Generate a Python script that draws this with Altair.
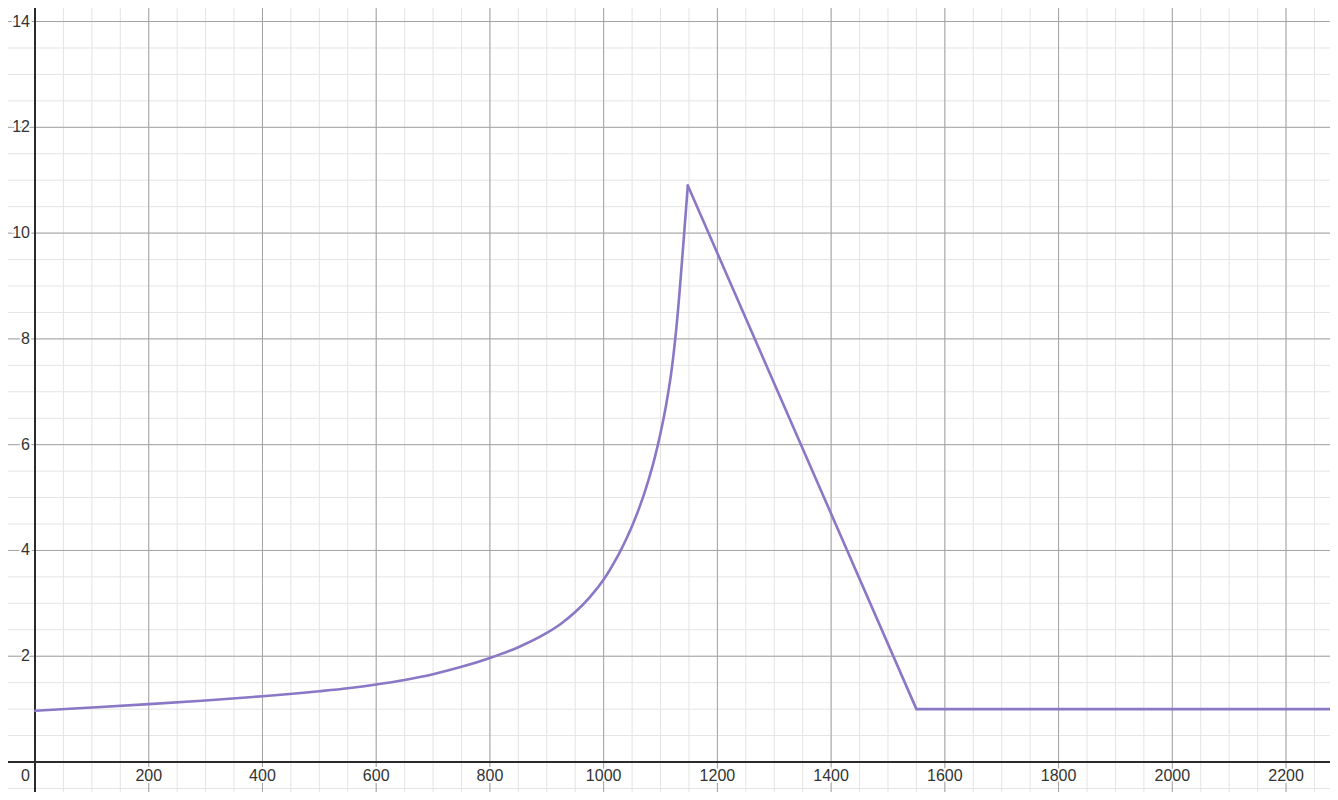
import altair as alt
import pandas as pd

# Rising curve
curve_x = [0, 100, 200, 300, 400, 500, 550, 600, 650, 700, 750, 800, 850, 900, 925, 950, 975,
           1000, 1010, 1020, 1030, 1040, 1050, 1060, 1070, 1080, 1090, 1100, 1110, 1120,
           1130, 1140, 1148]
curve_y = [0.97, 1.03, 1.094, 1.164, 1.243, 1.339, 1.395, 1.465, 1.551, 1.66, 1.799, 1.968,
           2.171, 2.44, 2.615, 2.835, 3.11, 3.45, 3.617, 3.801, 4.003, 4.222, 4.463, 4.731,
           5.031, 5.371, 5.761, 6.221, 6.761, 7.451, 8.451, 9.776, 10.9]

# Straight drop and flat tail
seg_x = [1148, 1550, 2300]
seg_y = [10.9, 1.0, 1.0]

# Grid and tick labels
minor_x = [v for v in range(-50, 2301, 50)]
minor_y = [v / 2 for v in range(-1, 29)]
major_x = [0, 200, 400, 600, 800, 1000, 1200, 1400, 1600, 1800, 2000, 2200]
major_y = [0, 2, 4, 6, 8, 10, 12, 14]
x_labels = [200, 400, 600, 800, 1000, 1200, 1400, 1600, 1800, 2000, 2200]
y_labels = [2, 4, 6, 8, 10, 12, 14]

xs = alt.Scale(domain=[-47.48, 2277.3], nice=False, zero=False)
ys = alt.Scale(domain=[-0.567, 14.256], nice=False, zero=False)

FONT = "Liberation Sans"

df_curve = pd.DataFrame({"x": curve_x, "y": curve_y})
df_seg = pd.DataFrame({"x": seg_x, "y": seg_y})
df_mx = pd.DataFrame({"v": minor_x})
df_my = pd.DataFrame({"v": minor_y})
df_Mx = pd.DataFrame({"v": major_x})
df_My = pd.DataFrame({"v": major_y})
df_xl = pd.DataFrame({"x": x_labels, "y": [0] * len(x_labels), "t": [str(v) for v in x_labels]})
df_yl = pd.DataFrame({"x": [0] * len(y_labels), "y": y_labels, "t": [str(v) for v in y_labels]})
df_zero = pd.DataFrame({"x": [0], "y": [0], "t": ["0"]})
df_ax = pd.DataFrame({"v": [0]})

minor_gx = alt.Chart(df_mx).mark_rule(color="#e4e4e4", strokeWidth=1).encode(
    x=alt.X("v:Q", scale=xs, axis=None))
minor_gy = alt.Chart(df_my).mark_rule(color="#e4e4e4", strokeWidth=1).encode(
    y=alt.Y("v:Q", scale=ys, axis=None))
major_gx = alt.Chart(df_Mx).mark_rule(color="#a3a3a3", strokeWidth=1).encode(
    x=alt.X("v:Q", scale=xs, axis=None))
major_gy = alt.Chart(df_My).mark_rule(color="#a3a3a3", strokeWidth=1).encode(
    y=alt.Y("v:Q", scale=ys, axis=None))
axis_x = alt.Chart(df_ax).mark_rule(color="#2b2b2b", strokeWidth=2).encode(
    x=alt.X("v:Q", scale=xs, axis=None))
axis_y = alt.Chart(df_ax).mark_rule(color="#2b2b2b", strokeWidth=2).encode(
    y=alt.Y("v:Q", scale=ys, axis=None))

curve = alt.Chart(df_curve).mark_line(
    color="#8a77c6", strokeWidth=2.6, interpolate="monotone", strokeCap="round", clip=True
).encode(x=alt.X("x:Q", scale=xs, axis=None), y=alt.Y("y:Q", scale=ys, axis=None))
seg = alt.Chart(df_seg).mark_line(
    color="#8a77c6", strokeWidth=2.6, strokeCap="round", strokeJoin="miter", clip=True
).encode(x=alt.X("x:Q", scale=xs, axis=None), y=alt.Y("y:Q", scale=ys, axis=None))


def labels(df, align, baseline, dx, dy):
    base = alt.Chart(df).encode(
        x=alt.X("x:Q", scale=xs, axis=None),
        y=alt.Y("y:Q", scale=ys, axis=None),
        text="t:N")
    halo = base.mark_text(align=align, baseline=baseline, dx=dx, dy=dy, font=FONT,
                          fontSize=16, stroke="white", strokeWidth=4, fill="white")
    txt = base.mark_text(align=align, baseline=baseline, dx=dx, dy=dy, font=FONT,
                         fontSize=16, color="#333333")
    return halo + txt


xl = labels(df_xl, "center", "top", 0, 6)
yl = labels(df_yl, "right", "middle", -5, 0)
zl = labels(df_zero, "right", "top", -5, 6)

chart = alt.layer(
    minor_gx, minor_gy, major_gx, major_gy, axis_x, axis_y, curve, seg, xl, yl, zl
).properties(
    width=1322, height=784, padding=0,
    autosize=alt.AutoSizeParams(type="none"),
    background="white",
).configure_view(stroke=None)

chart.save("out.html", embed_options={"renderer": "svg", "actions": False})
